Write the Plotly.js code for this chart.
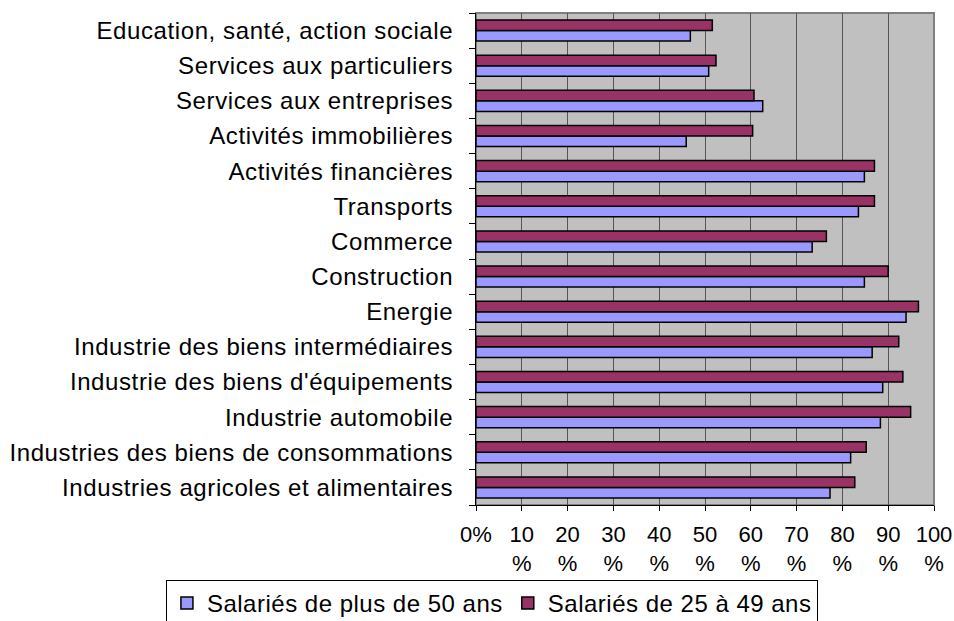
<!DOCTYPE html>
<html>
<head>
<meta charset="utf-8">
<script src="https://cdn.plot.ly/plotly-3.0.1.min.js"></script>
<style>
html,body{margin:0;padding:0;background:#fff;}
#chart{width:954px;height:621px;}
.legendtext{letter-spacing:0.5px;}
.ytick text{letter-spacing:0.6px;}
</style>
</head>
<body>
<div id="chart"></div>
<script>
const categories = [
  "Education, santé, action sociale",
  "Services aux particuliers",
  "Services aux entreprises",
  "Activités immobilières",
  "Activités financières",
  "Transports",
  "Commerce",
  "Construction",
  "Energie",
  "Industrie des biens intermédiaires",
  "Industrie des biens d'équipements",
  "Industrie automobile",
  "Industries des biens de consommations",
  "Industries agricoles et alimentaires"
];
const plus50 = [46.8, 50.8, 62.6, 45.9, 84.8, 83.5, 73.4, 84.8, 93.9, 86.5, 88.8, 88.3, 81.8, 77.3];
const de25a49 = [51.6, 52.4, 60.7, 60.4, 87.0, 87.0, 76.5, 90.0, 96.6, 92.3, 93.2, 94.9, 85.2, 82.7];
const seriesNames = ["Salariés de plus de 50 ans", "Salariés de 25 à 49 ans"];
const tickVals = [0, 10, 20, 30, 40, 50, 60, 70, 80, 90, 100];
const tickLabels = ["0%", "10<br>%", "20<br>%", "30<br>%", "40<br>%", "50<br>%", "60<br>%", "70<br>%", "80<br>%", "90<br>%", "100<br>%"];

const fam = "Liberation Sans, Arial, sans-serif";

const traces = [
  {type: "bar", orientation: "h", name: seriesNames[0], y: categories, x: plus50,
   marker: {color: "#9999FF", line: {color: "#000", width: 1.5}}, hoverinfo: "x+y"},
  {type: "bar", orientation: "h", name: seriesNames[1], y: categories, x: de25a49,
   marker: {color: "#993366", line: {color: "#000", width: 1.5}}, hoverinfo: "x+y"}
];

const layout = {
  width: 954, height: 621,
  margin: {l: 476, r: 20, t: 13, b: 116, autoexpand: false},
  paper_bgcolor: "#fff",
  plot_bgcolor: "#C0C0C0",
  font: {family: fam, size: 22, color: "#000"},
  barmode: "group",
  bargap: 0.4,
  bargroupgap: 0,
  showlegend: true,
  legend: {
    orientation: "h", x: -0.677, xanchor: "left", y: -0.1524, yanchor: "top",
    bordercolor: "#000", borderwidth: 1, bgcolor: "#fff",
    font: {family: fam, size: 24, color: "#000"},
    traceorder: "normal", itemwidth: 30
  },
  xaxis: {
    range: [0, 100], tickvals: tickVals, ticktext: tickLabels,
    tickfont: {family: fam, size: 22, color: "#000"},
    ticklabelstandoff: 5,
    showgrid: true, gridcolor: "#555", gridwidth: 1,
    showline: true, linecolor: "#000", linewidth: 1,
    ticks: "outside", ticklen: 5, tickcolor: "#000",
    zeroline: false, fixedrange: true
  },
  yaxis: {
    type: "category", categoryorder: "array", categoryarray: categories.slice().reverse(),
    tickfont: {family: fam, size: 24, color: "#000"},
    ticklabelstandoff: 17,
    showline: true, linecolor: "#000", linewidth: 1,
    ticks: "outside", tickson: "boundaries", ticklen: 6, tickcolor: "#000",
    showgrid: false, zeroline: false, fixedrange: true
  },
  shapes: [{type: "rect", xref: "paper", yref: "paper", x0: 0, x1: 1, y0: 0, y1: 1,
            line: {color: "#808080", width: 2}, layer: "below"}]
};

Plotly.newPlot("chart", traces, layout, {displayModeBar: false, staticPlot: true});
</script>
</body>
</html>
